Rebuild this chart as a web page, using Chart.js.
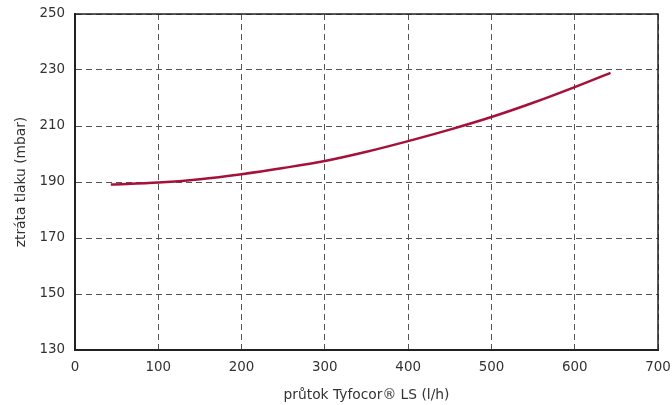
<!DOCTYPE html>
<html>
<head>
<meta charset="utf-8">
<script src="https://cdn.jsdelivr.net/npm/chart.js@4"></script>
<style>
html,body{margin:0;padding:0;background:#fff;}
#wrap{width:672px;height:405px;}
</style>
</head>
<body>
<div id="wrap"><canvas id="c" width="672" height="405"></canvas></div>
<script>
const flowRates = [43, 100, 150, 200, 250, 300, 350, 400, 450, 500, 550, 600, 643];
const pressureLoss = [189.1, 189.8, 191.0, 192.8, 195.0, 197.5, 200.8, 204.6, 208.7, 213.2, 218.3, 223.9, 229.0];
const xTitle = 'průtok Tyfocor® LS (l/h)';
const yTitle = 'ztráta tlaku (mbar)';

const points = flowRates.map((x, i) => ({x: x, y: pressureLoss[i]}));
const FONT = 'DejaVu Sans';
const gridColor = '#555';

const boxPlugin = {
  id: 'box',
  afterDraw(chart) {
    const {ctx, chartArea: a} = chart;
    ctx.save();
    ctx.strokeStyle = '#222';
    ctx.lineWidth = 1.5;
    ctx.setLineDash([]);
    ctx.strokeRect(a.left, a.top, a.right - a.left, a.bottom - a.top);
    ctx.restore();
  }
};

new Chart(document.getElementById('c'), {
  type: 'line',
  data: {
    datasets: [{
      data: points,
      borderColor: '#a5113a',
      borderWidth: 2.5,
      pointRadius: 0,
      fill: false,
      cubicInterpolationMode: 'monotone'
    }]
  },
  options: {
    responsive: false,
    animation: false,
    devicePixelRatio: 1,
    layout: {padding: {left: 0, top: 14, right: 14, bottom: 0}},
    plugins: {legend: {display: false}, tooltip: {enabled: false}},
    scales: {
      x: {
        type: 'linear',
        min: 0, max: 700,
        ticks: {stepSize: 100, color: '#333', font: {family: FONT, size: 13.4}, padding: 9, maxRotation: 0},
        grid: {color: gridColor, lineWidth: 1, drawTicks: false},
        border: {display: true, color: '#222', width: 2, dash: [6, 4]},
        title: {display: true, text: xTitle, color: '#333', font: {family: FONT, size: 13.8}, padding: {top: 6, bottom: 1}},
        afterFit(s) { s.height = 55; s.paddingLeft = 0; s.paddingRight = 0; }
      },
      y: {
        min: 130, max: 250,
        ticks: {stepSize: 20, color: '#333', font: {family: FONT, size: 13.4}, padding: 10},
        grid: {color: gridColor, lineWidth: 1, drawTicks: false},
        border: {display: true, color: '#222', width: 2, dash: [6, 4]},
        title: {display: true, text: yTitle, color: '#333', font: {family: FONT, size: 13.8}, padding: {top: 13, bottom: 0}},
        afterFit(s) { s.width = 75; s.paddingTop = 0; s.paddingBottom = 0; }
      }
    }
  },
  plugins: [boxPlugin]
});
</script>
</body>
</html>
